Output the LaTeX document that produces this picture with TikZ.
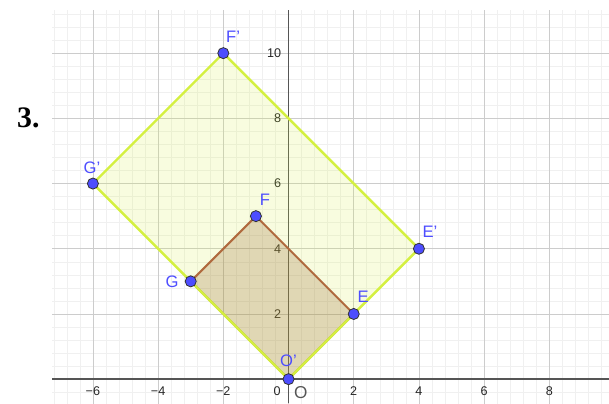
\documentclass[tikz,border=0pt]{standalone}
\usepackage{fontspec}
\setmainfont{Liberation Sans}
\newfontfamily\numfont{Liberation Serif}
\definecolor{ptblue}{RGB}{77,77,255}
\definecolor{limeedge}{RGB}{212,240,64}
\definecolor{brownedge}{RGB}{176,106,62}
\definecolor{tanfill}{RGB}{153,102,51}
\definecolor{axisgray}{RGB}{85,85,85}

\begin{document}
\begin{tikzpicture}[
  pt/.style={circle, fill=ptblue, draw=black!80, line width=0.7pt, inner sep=0pt, minimum size=0.34cm},
  lbl/.style={text=ptblue, font=\fontsize{14.5}{14.5}\selectfont},
  ticklbl/.style={text=black!85, font=\fontsize{11}{11}\selectfont}]
  \useasboundingbox (-8.85,-0.74) rectangle (9.83,11.63);
  % grid
  \begin{scope}
    \clip (-7.25,-0.74) rectangle (9.83,11.32);
    \draw[gray!12, line width=0.5pt] (-8,-0.8) grid[step=0.4] (10,11.6);
    \draw[gray!40, line width=0.6pt] (-8,-2) grid[step=2] (10,12);
  \end{scope}
  \draw[axisgray, line width=1.2pt] (-7.25,0) -- (9.83,0);
  \draw[axisgray, line width=1.2pt] (0,-0.74) -- (0,11.32);
  \foreach \k/\t in {-6/−6, -4/−4, -2/−2, 2/2, 4/4, 6/6, 8/8}
    \node[ticklbl] at (\k,-0.36) {\t};
  \foreach \k in {2,4,6,8,10}
    \node[ticklbl, anchor=east] at (-0.1,\k) {\k};
  \node[ticklbl] (zero) at (-0.35,-0.36) {0};
  \node[text=axisgray, font=\fontsize{15}{15}\selectfont] (origin) at (0.38,-0.40) {O};
  \node[font=\numfont\bfseries\fontsize{26}{26}\selectfont] (num) at (-7.98,8.0) {3.};

  \coordinate (O) at (0,0);
  \coordinate (E) at (2,2);
  \coordinate (F) at (-1,5);
  \coordinate (G) at (-3,3);
  \coordinate (Op) at (0,0);
  \coordinate (Ep) at (4,4);
  \coordinate (Fp) at (-2,10);
  \coordinate (Gp) at (-6,6);

  % polygons
  \fill[limeedge, opacity=0.17] (Op) -- (Ep) -- (Fp) -- (Gp) -- cycle;
  \filldraw[draw=brownedge, line width=1.8pt, fill=tanfill, fill opacity=0.25, line join=round]
    (O) -- (E) -- (F) -- (G) -- cycle;
  \draw[limeedge, line width=2.1pt, line join=round] (Op) -- (Ep) -- (Fp) -- (Gp) -- cycle;

  % points
  \node[pt] (e) at (E) {};
  \node[pt] (f) at (F) {};
  \node[pt] (g) at (G) {};
  \node[pt] (ep) at (Ep) {};
  \node[pt] (fp) at (Fp) {};
  \node[pt] (gp) at (Gp) {};
  \node[pt] (op) at (Op) {};
  \node[lbl] at (2.29,2.52) {E};
  \node[lbl] at (-0.72,5.49) {F};
  \node[lbl] at (-3.57,2.98) {G};
  \node[lbl] at (4.34,4.51) {E'};
  \node[lbl] at (-1.70,10.49) {F'};
  \node[lbl] at (-6.03,6.47) {G'};
  \node[lbl] at (0.0,0.55) {O'};
\end{tikzpicture}
\end{document}
